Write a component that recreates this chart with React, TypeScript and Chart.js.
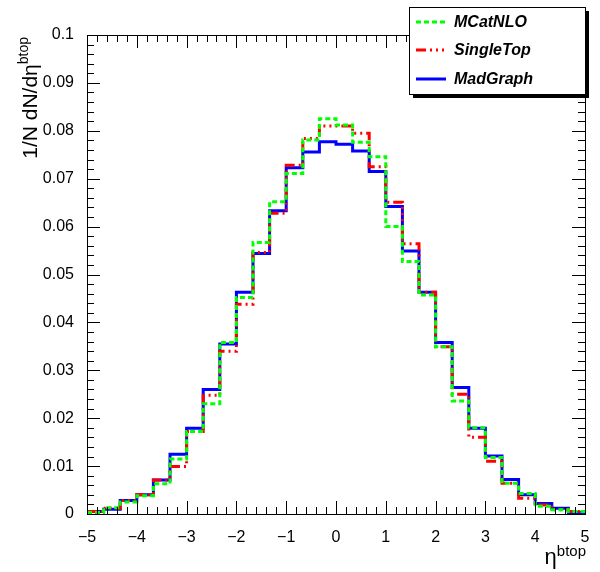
import React, { useEffect, useRef } from "react";
import { Chart, registerables } from "chart.js";

Chart.register(...registerables);

// ---- data ----
const X_MIN = -5;
const X_MAX = 5;
const N_BINS = 30;

const seriesNames = ["MCatNLO", "SingleTop", "MadGraph"];

const mcatnlo = [
  0.0003, 0.0013, 0.0025, 0.0038, 0.0063, 0.0115, 0.0172, 0.023, 0.0358, 0.0452,
  0.0567, 0.0652, 0.0711, 0.0781, 0.0825, 0.0812, 0.0776, 0.0746, 0.06, 0.0527,
  0.0457, 0.0349, 0.0236, 0.018, 0.0118, 0.0064, 0.0043, 0.0016, 0.0009, 0.0005,
];
const singletop = [
  0.0005, 0.0012, 0.0028, 0.004, 0.0071, 0.0099, 0.0172, 0.0248, 0.034, 0.0438,
  0.0546, 0.0628, 0.0728, 0.0784, 0.081, 0.081, 0.0795, 0.0725, 0.0651, 0.0564,
  0.0463, 0.0349, 0.025, 0.016, 0.011, 0.0064, 0.0033, 0.0019, 0.0009, 0.0005,
];
const madgraph = [
  0.0005, 0.001, 0.0028, 0.004, 0.0071, 0.0125, 0.0179, 0.026, 0.0355, 0.0463,
  0.0544, 0.0633, 0.0723, 0.0756, 0.0777, 0.0772, 0.0758, 0.0715, 0.0642, 0.0549,
  0.0463, 0.0358, 0.0264, 0.0179, 0.0121, 0.0072, 0.004, 0.0022, 0.0012, 0.0003,
];

const xTickLabels = ["−5", "−4", "−3", "−2", "−1", "0", "1", "2", "3", "4", "5"];
const yTickLabels = ["0", "0.01", "0.02", "0.03", "0.04", "0.05", "0.06", "0.07", "0.08", "0.09", "0.1"];
const Y_MIN = 0;
const Y_MAX = 0.1;

const xTitleMain = "η";
const xTitleSup = "btop";
const yTitleMain = "1/N dN/dη";
const yTitleSup = "btop";

// ---- styles ----
const styles = [
  { color: "#00ff00", dash: [5, 3] },
  { color: "#ff0000", dash: [10, 4, 2, 4, 2, 4, 2, 4] },
  { color: "#0000ff", dash: [] as number[] },
];
const FONT = "'Liberation Sans', Arial, Helvetica, sans-serif";

function histPoints(values: number[]) {
  const w = (X_MAX - X_MIN) / N_BINS;
  const pts = values.map((v, i) => ({ x: X_MIN + i * w, y: v }));
  pts.push({ x: X_MAX, y: values[values.length - 1] });
  return pts;
}

const decorPlugin = {
  id: "rootDecor",
  afterDraw(chart: any) {
    const { ctx, chartArea: a, scales } = chart;
    const xs = scales.x;
    const ys = scales.y;
    ctx.save();
    ctx.strokeStyle = "#000";
    ctx.lineWidth = 1;
    ctx.setLineDash([]);
    ctx.beginPath();
    // x ticks (major every 1, 5 subdivisions)
    const nx = (X_MAX - X_MIN) * 5;
    for (let i = 0; i <= nx; i++) {
      const v = X_MIN + i * 0.2;
      const px = Math.round(xs.getPixelForValue(v)) + 0.5;
      const len = i % 5 === 0 ? 13 : 7;
      ctx.moveTo(px, a.bottom);
      ctx.lineTo(px, a.bottom - len);
      ctx.moveTo(px, a.top);
      ctx.lineTo(px, a.top + len);
    }
    // y ticks (major every 0.01, 5 subdivisions)
    const ny = 50;
    for (let i = 0; i <= ny; i++) {
      const v = Y_MIN + (i * (Y_MAX - Y_MIN)) / ny;
      const py = Math.round(ys.getPixelForValue(v)) + 0.5;
      const len = i % 5 === 0 ? 13 : 7;
      ctx.moveTo(a.left, py);
      ctx.lineTo(a.left + len, py);
      ctx.moveTo(a.right, py);
      ctx.lineTo(a.right - len, py);
    }
    ctx.stroke();
    // frame
    ctx.strokeRect(
      Math.round(a.left) + 0.5,
      Math.round(a.top) + 0.5,
      Math.round(a.right - a.left),
      Math.round(a.bottom - a.top)
    );

    // x title
    ctx.fillStyle = "#000";
    ctx.textBaseline = "alphabetic";
    ctx.font = `22px ${FONT}`;
    const wMain = ctx.measureText(xTitleMain).width;
    ctx.font = `15px ${FONT}`;
    const wSup = ctx.measureText(xTitleSup).width;
    const xEnd = a.right + 1;
    ctx.textAlign = "left";
    ctx.font = `22px ${FONT}`;
    ctx.fillText(xTitleMain, xEnd - wSup - wMain, 564);
    ctx.font = `15px ${FONT}`;
    ctx.fillText(xTitleSup, xEnd - wSup, 556);

    // y title (rotated)
    ctx.save();
    ctx.translate(37, a.top + 2);
    ctx.rotate(-Math.PI / 2);
    ctx.font = `21px ${FONT}`;
    const yMainW = ctx.measureText(yTitleMain).width;
    ctx.font = `14px ${FONT}`;
    const ySupW = ctx.measureText(yTitleSup).width;
    ctx.textAlign = "left";
    ctx.font = `21px ${FONT}`;
    ctx.fillText(yTitleMain, -(yMainW + ySupW), 0);
    ctx.font = `14px ${FONT}`;
    ctx.fillText(yTitleSup, -ySupW, -9);
    ctx.restore();

    // legend
    const bx = 409, by = 7, bw = 176, bh = 87;
    ctx.fillStyle = "#000";
    ctx.fillRect(bx + 4, by + 4, bw, bh);
    ctx.fillStyle = "#fff";
    ctx.fillRect(bx, by, bw, bh);
    ctx.strokeStyle = "#000";
    ctx.lineWidth = 1;
    ctx.strokeRect(bx + 0.5, by + 0.5, bw, bh);
    const rows = [22, 50, 79];
    seriesNames.forEach((name, i) => {
      const yy = rows[i];
      ctx.strokeStyle = styles[i].color;
      ctx.lineWidth = 3;
      ctx.setLineDash(styles[i].dash);
      ctx.beginPath();
      ctx.moveTo(416, yy);
      ctx.lineTo(446, yy);
      ctx.stroke();
      ctx.setLineDash([]);
      ctx.fillStyle = "#000";
      ctx.font = `italic bold 16px ${FONT}`;
      ctx.textAlign = "left";
      ctx.textBaseline = "middle";
      ctx.fillText(name, 454, yy + 1);
    });
    ctx.restore();
  },
};

export default function App() {
  const ref = useRef<HTMLCanvasElement>(null);
  useEffect(() => {
    if (!ref.current) return;
    const series = [mcatnlo, singletop, madgraph];
    const chart = new Chart(ref.current, {
      type: "line",
      data: {
        datasets: series.map((vals, i) => ({
          label: seriesNames[i],
          data: histPoints(vals),
          borderColor: styles[i].color,
          borderDash: styles[i].dash,
          borderWidth: 3,
          stepped: true,
          pointRadius: 0,
          fill: false,
          tension: 0,
          order: i,
        })),
      },
      options: {
        animation: false,
        responsive: false,
        maintainAspectRatio: false,
        layout: { padding: { left: 0, right: 15, top: 35, bottom: 0 } },
        plugins: { legend: { display: false }, tooltip: { enabled: false } },
        scales: {
          x: {
            type: "linear",
            min: X_MIN,
            max: X_MAX,
            grid: { display: false },
            border: { display: false },
            afterFit: (s: any) => {
              s.height = 58;
            },
            afterBuildTicks: (s: any) => {
              s.ticks = xTickLabels.map((_, i) => ({ value: X_MIN + i }));
            },
            ticks: {
              padding: 6,
              color: "#000",
              font: { family: FONT, size: 16 },
              maxRotation: 0,
              autoSkip: false,
              callback: (_v: any, i: number) => xTickLabels[i],
            },
          },
          y: {
            type: "linear",
            min: Y_MIN,
            max: Y_MAX,
            grid: { display: false },
            border: { display: false },
            afterFit: (s: any) => {
              s.width = 87;
            },
            afterBuildTicks: (s: any) => {
              s.ticks = yTickLabels.map((_, i) => ({ value: Y_MIN + i * 0.01 }));
            },
            ticks: {
              padding: 5,
              color: "#000",
              font: { family: FONT, size: 16 },
              autoSkip: false,
              callback: (_v: any, i: number) => yTickLabels[i],
            },
          },
        },
      },
      plugins: [decorPlugin],
    });
    return () => chart.destroy();
  }, []);
  return (
    <div style={{ position: "absolute", left: 0, top: 0, width: 600, height: 572, background: "#fff" }}>
      <canvas ref={ref} width={600} height={572} style={{ display: "block", width: 600, height: 572 }} />
    </div>
  );
}
